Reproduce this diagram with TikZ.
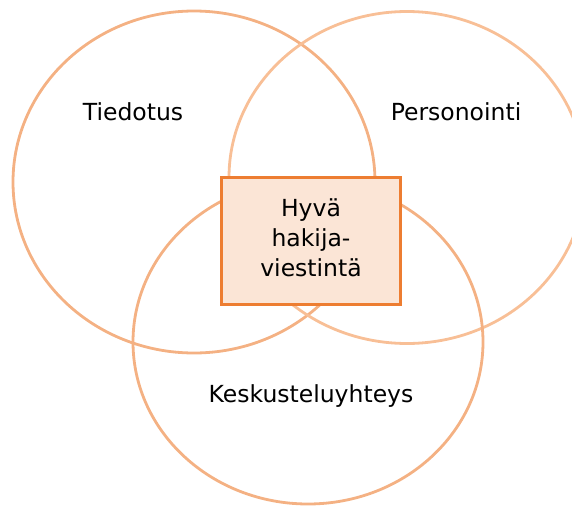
\documentclass[tikz,border=0pt]{standalone}
\usepackage{fontspec}
\setmainfont{DejaVu Sans}
\definecolor{ringc}{HTML}{F4B183}
\definecolor{ringd}{HTML}{F8BF96}
\definecolor{boxfill}{HTML}{FBE5D6}
\definecolor{boxline}{HTML}{ED7D31}
\begin{document}
\begin{tikzpicture}[x=1pt,y=-1pt,
  ring/.style={draw=ringc,line width=2.8pt},
  lbl/.style={font=\fontsize{23.5}{28}\selectfont,text=black},
  centerbox/.style={draw=boxline,fill=boxfill,line width=3.2pt,minimum width=179pt,minimum height=127pt,align=center,font=\fontsize{23.5}{30}\selectfont}]
\useasboundingbox (0,0) rectangle (572,506);
\begin{scope}
\clip (0,0) rectangle (572,506);
\draw[ring] (194,182) ellipse [x radius=181, y radius=171];
\draw[ring,draw=ringd] (407,177.5) ellipse [x radius=178, y radius=166];
\draw[ring] (308,342) ellipse [x radius=175, y radius=162];
\end{scope}
\node[lbl] (tiedotus) at (133,112) {Tiedotus};
\node[lbl] (personointi) at (456,112) {Personointi};
\node[lbl] (keskustelu) at (311,396) {Keskusteluyhteys};
\node[centerbox] (hyva) at (311,241) {};
\node[align=center,font=\fontsize{23.5}{30}\selectfont] (hyvatext) at (311,237.5) {Hyvä\\hakija-\\viestintä};
\end{tikzpicture}
\end{document}
